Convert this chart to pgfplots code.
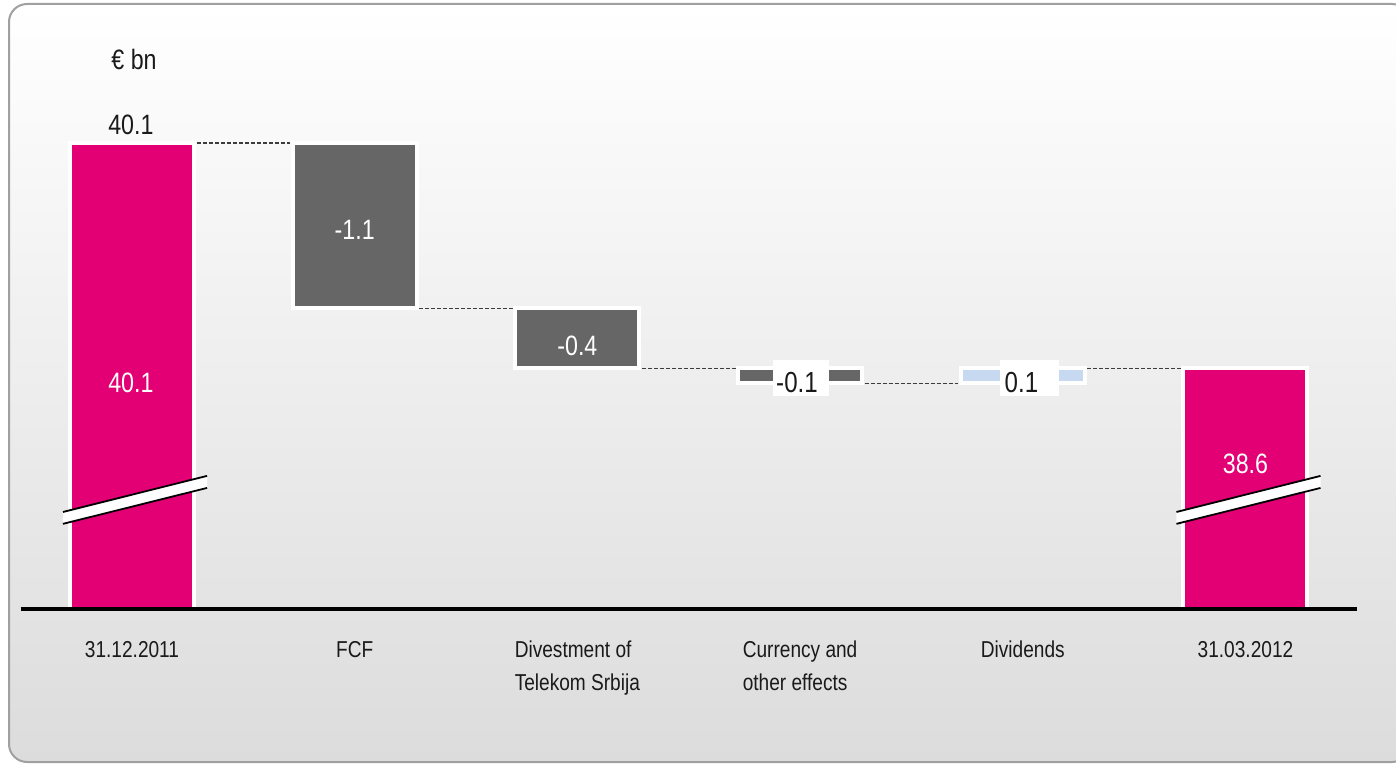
\documentclass[border=0pt]{standalone}
\usepackage{pgfplots}
\pgfplotsset{compat=1.18}
\usepackage{pgfplotstable}
\usepackage{fontspec}
\setmainfont{Liberation Sans}[FakeStretch=0.83]
\definecolor{tmag}{HTML}{E20074}
\definecolor{tgray}{HTML}{666666}
\definecolor{tblue}{HTML}{C6D9F0}
\definecolor{txt}{HTML}{1A1A1A}
\definecolor{dashc}{HTML}{3C3C3C}
\definecolor{bgbot}{HTML}{DCDCDC}
\definecolor{framec}{HTML}{A0A0A0}

\pgfplotstableread{
x base pink gray blue
0 0    40.1 0   0
1 39.0 0    1.1 0
2 38.6 0    0.4 0
3 38.5 0    0.1 0
4 38.5 0    0   0.1
5 0    38.6 0   0
}\wf

\newcommand{\annotations}{%
% connectors
\draw[dashc, line width=1.3bp, dash pattern=on 4bp off 2bp] (axis cs:0.29,40.1) -- (axis cs:0.71,40.1);
\draw[dashc, line width=1.3bp, dash pattern=on 4bp off 2bp] (axis cs:1.29,39.0) -- (axis cs:1.71,39.0);
\draw[dashc, line width=1.3bp, dash pattern=on 4bp off 2bp] (axis cs:2.29,38.6) -- (axis cs:2.71,38.6);
\draw[dashc, line width=1.3bp, dash pattern=on 4bp off 2bp] (axis cs:3.29,38.5) -- (axis cs:3.71,38.5);
\draw[dashc, line width=1.3bp, dash pattern=on 4bp off 2bp] (axis cs:4.29,38.6) -- (axis cs:4.71,38.6);
% axis breaks
\fill[white] (axis cs:-0.31,37.566) -- (axis cs:0.337,37.805) -- (axis cs:0.337,37.885) -- (axis cs:-0.31,37.645) -- cycle;
\draw[black, line width=1.8bp] (axis cs:-0.31,37.645) -- (axis cs:0.337,37.885);
\draw[black, line width=1.8bp] (axis cs:-0.31,37.566) -- (axis cs:0.337,37.805);
\fill[white] (axis cs:4.69,37.566) -- (axis cs:5.337,37.805) -- (axis cs:5.337,37.885) -- (axis cs:4.69,37.645) -- cycle;
\draw[black, line width=1.8bp] (axis cs:4.69,37.645) -- (axis cs:5.337,37.885);
\draw[black, line width=1.8bp] (axis cs:4.69,37.566) -- (axis cs:5.337,37.805);
% label boxes
\node[fill=white, inner sep=0pt, minimum width=56bp, minimum height=36bp] at (axis cs:3.004,38.537) {};
\node[fill=white, inner sep=0pt, minimum width=59bp, minimum height=36bp] at (axis cs:4.030,38.537) {};
% labels
\node[anchor=base west, font=\fontsize{28bp}{30bp}\selectfont, text=txt] at (axis cs:-0.108,40.586) {€ bn};
\node[anchor=base, font=\fontsize{28bp}{30bp}\selectfont, text=txt] at (axis cs:-0.005,40.154) {40.1};
\node[anchor=base, font=\fontsize{28bp}{30bp}\selectfont, text=white] at (axis cs:-0.005,38.437) {40.1};
\node[anchor=base, font=\fontsize{28bp}{30bp}\selectfont, text=white] at (axis cs:1,39.455) {-1.1};
\node[anchor=base, font=\fontsize{28bp}{30bp}\selectfont, text=white] at (axis cs:2,38.683) {-0.4};
\node[anchor=base west, inner sep=0pt, font=\fontsize{29bp}{30bp}\selectfont, text=txt] at (axis cs:2.892,38.437) {-0.1};
\node[anchor=base west, inner sep=0pt, font=\fontsize{29bp}{30bp}\selectfont, text=txt] at (axis cs:3.918,38.437) {0.1};
\node[anchor=base, font=\fontsize{28bp}{30bp}\selectfont, text=white] at (axis cs:5,37.898) {38.6};
}

\begin{document}
\begin{tikzpicture}[x=1bp,y=1bp]
\useasboundingbox (0,0) rectangle (1396,763);
\shadedraw[top color=white, bottom color=bgbot, rounded corners=18bp, draw=framec, line width=2bp] (9,1) rectangle (1410,759);
\begin{axis}[
  at={(20.65bp,154bp)}, anchor=south west,
  scale only axis, width=1336.2bp, height=601.2bp,
  xmin=-0.5, xmax=5.5, ymin=37, ymax=41,
  ybar stacked, bar width=124bp,
  axis x line=bottom, axis y line=none,
  x axis line style={-, line width=3.5bp, black},
  xtick={0,1,2,3,4,5},
  xticklabels={31.12.2011, FCF, {Divestment of\\Telekom Srbija}, {Currency and\\other effects}, Dividends, 31.03.2012},
  major tick length=0pt,
  xticklabel style={align=left, anchor=north, inner sep=0pt, yshift=-32bp, font=\fontsize{23bp}{33bp}\selectfont, text=txt},
  axis on top,
  after end axis/.code={\annotations},
]
\addplot[draw=none, fill=none] table[x=x, y=base] {\wf};
\addplot[fill=tmag, draw=white, line width=4bp] table[x=x, y=pink] {\wf};
\addplot[fill=tgray, draw=white, line width=4bp] table[x=x, y=gray] {\wf};
\addplot[fill=tblue, draw=white, line width=4bp] table[x=x, y=blue] {\wf};
\end{axis}
\end{tikzpicture}
\end{document}
